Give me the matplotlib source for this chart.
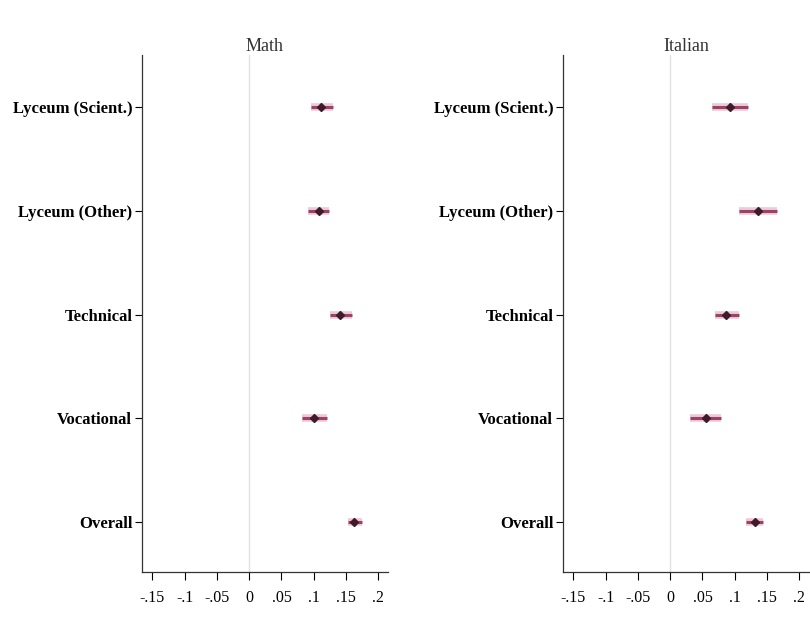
import matplotlib
matplotlib.use("Agg")
import matplotlib.pyplot as plt
import numpy as np

plt.rcParams["font.family"] = ["Liberation Serif", "DejaVu Serif"]

categories = ["Lyceum (Scient.)", "Lyceum (Other)", "Technical", "Vocational", "Overall"]

math_est = [0.111, 0.108, 0.141, 0.101, 0.163]
math_lo = [0.096, 0.091, 0.125, 0.082, 0.153]
math_hi = [0.130, 0.124, 0.159, 0.121, 0.175]

ital_est = [0.093, 0.136, 0.086, 0.056, 0.132]
ital_lo = [0.064, 0.107, 0.069, 0.030, 0.118]
ital_hi = [0.120, 0.165, 0.106, 0.079, 0.143]

xticks = [-0.15, -0.1, -0.05, 0, 0.05, 0.1, 0.15, 0.2]
xticklabels = ["-.15", "-.1", "-.05", "0", ".05", ".1", ".15", ".2"]

fig = plt.figure(figsize=(8.1, 6.19), dpi=100)
ax_m = fig.add_axes([142 / 810, 1 - 572 / 619, 246 / 810, 517 / 619])
ax_i = fig.add_axes([563 / 810, 1 - 572 / 619, 246 / 810, 517 / 619])

ypos = np.arange(len(categories), 0, -1)


def panel(ax, title, est, lo, hi):
    ax.axvline(0, color="#e3e3e3", lw=1.0, zorder=0)
    for y, e, a, b in zip(ypos, est, lo, hi):
        ax.plot([a, b], [y, y], color="#d88aa6", lw=5.5, alpha=0.45,
                solid_capstyle="butt", zorder=2)
        ax.plot([a, b], [y, y], color="#8e2a52", lw=2.2, alpha=0.85,
                solid_capstyle="butt", zorder=3)
    ax.plot(est, ypos, linestyle="none", marker="D", ms=3.8,
            color="#3e1a2a", zorder=4)
    ax.set_xlim(-0.166, 0.215)
    ax.set_ylim(0.52, 5.5)
    ax.set_xticks(xticks)
    ax.set_xticklabels(xticklabels, fontsize=11.5)
    ax.set_yticks(ypos)
    ax.set_yticklabels(categories, fontsize=12, fontweight="bold")
    ax.tick_params(axis="x", direction="out", length=6, width=0.8, pad=7)
    ax.tick_params(axis="y", direction="out", length=5, width=0.8, pad=2)
    for s in ("top", "right"):
        ax.spines[s].set_visible(False)
    for s in ("left", "bottom"):
        ax.spines[s].set_linewidth(0.9)
        ax.spines[s].set_color("#333333")
    ax.set_title(title, fontsize=13, pad=2, color="#333333")


panel(ax_m, "Math", math_est, math_lo, math_hi)
panel(ax_i, "Italian", ital_est, ital_lo, ital_hi)

fig.savefig("out.png", dpi=100)
